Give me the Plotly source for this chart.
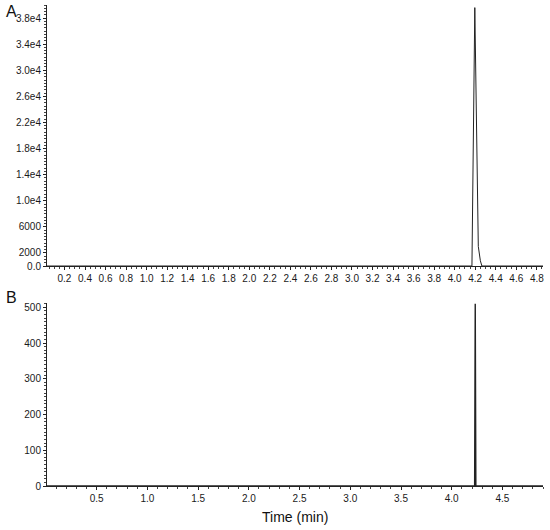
import plotly.graph_objects as go

# Panel A chromatogram
time_a = [0.03, 4.168, 4.196, 4.230, 4.250, 4.265, 4.86]
intensity_a = [0, 0, 39600, 3000, 800, 0, 0]

# Panel B chromatogram
time_b = [0.01, 4.226, 4.232, 4.238, 4.90]
intensity_b = [0, 0, 510, 0, 0]

a_ytick_vals = [0, 2000, 6000, 10000, 14000, 18000, 22000, 26000, 30000, 34000, 38000]
a_ytick_text = ["0.0", "2000", "6000", "1.0e4", "1.4e4", "1.8e4", "2.2e4", "2.6e4", "3.0e4", "3.4e4", "3.8e4"]
b_ytick_vals = [0, 100, 200, 300, 400, 500]

fig = go.Figure()
fig.add_trace(go.Scatter(x=time_a, y=intensity_a, mode="lines",
                         line=dict(color="#222222", width=1), xaxis="x", yaxis="y",
                         showlegend=False, hoverinfo="skip"))
fig.add_trace(go.Scatter(x=time_b, y=intensity_b, mode="lines",
                         line=dict(color="#222222", width=1.4), xaxis="x2", yaxis="y2",
                         showlegend=False, hoverinfo="skip"))

W, H = 550, 530
x0, x1 = 47 / W, 543 / W
tick_font = dict(family="Liberation Sans, Arial, sans-serif", size=10, color="#1a1a1a")

common_x = dict(showgrid=False, zeroline=False, showline=True, linecolor="#222222",
                linewidth=1, ticks="outside", ticklen=3, tickcolor="#222222",
                tickfont=tick_font, domain=[x0, x1], automargin=False)
common_y = dict(showgrid=False, zeroline=False, showline=True, linecolor="#222222",
                linewidth=1, ticks="outside", ticklen=3, tickcolor="#222222",
                tickfont=tick_font, automargin=False)

fig.update_layout(
    width=W, height=H,
    margin=dict(l=0, r=0, t=0, b=0, autoexpand=False),
    paper_bgcolor="white", plot_bgcolor="white",
    xaxis=dict(**common_x, anchor="y", range=[0.03, 4.86], tick0=0.2, dtick=0.2,
               tickformat=".1f",
               minor=dict(ticks="outside", ticklen=2, dtick=0.05, tickcolor="#444444")),
    yaxis=dict(**common_y, anchor="x", domain=[1 - 266 / H, 1 - 5 / H], range=[0, 40000],
               tickmode="array", tickvals=a_ytick_vals, ticktext=a_ytick_text,
               minor=dict(ticks="outside", ticklen=2, dtick=500, tickcolor="#444444")),
    xaxis2=dict(**common_x, anchor="y2", range=[0.01, 4.90], tick0=0.5, dtick=0.5,
                tickformat=".1f",
                minor=dict(ticks="outside", ticklen=2, dtick=0.1, tickcolor="#444444")),
    yaxis2=dict(**common_y, anchor="x2", domain=[1 - 486 / H, 1 - 303 / H], range=[0, 512],
                tickmode="array", tickvals=b_ytick_vals,
                minor=dict(ticks="outside", ticklen=2, dtick=10, tickcolor="#444444")),
    annotations=[
        dict(text="A", x=4 / W, y=1 - 12 / H, xref="paper", yref="paper",
             xanchor="left", yanchor="middle", showarrow=False,
             font=dict(family="Liberation Sans, Arial, sans-serif", size=16, color="#111111")),
        dict(text="B", x=4 / W, y=1 - 297 / H, xref="paper", yref="paper",
             xanchor="left", yanchor="middle", showarrow=False,
             font=dict(family="Liberation Sans, Arial, sans-serif", size=16, color="#111111")),
        dict(text="Time (min)", x=(x0 + x1) / 2, y=1 - 517 / H, xref="paper", yref="paper",
             xanchor="center", yanchor="middle", showarrow=False,
             font=dict(family="Liberation Sans, Arial, sans-serif", size=14, color="#111111")),
    ],
)

fig.write_html("out.html", config={"displayModeBar": False},
               post_script="document.body.style.margin='0';document.body.style.padding='0';document.body.style.overflow='hidden';")
